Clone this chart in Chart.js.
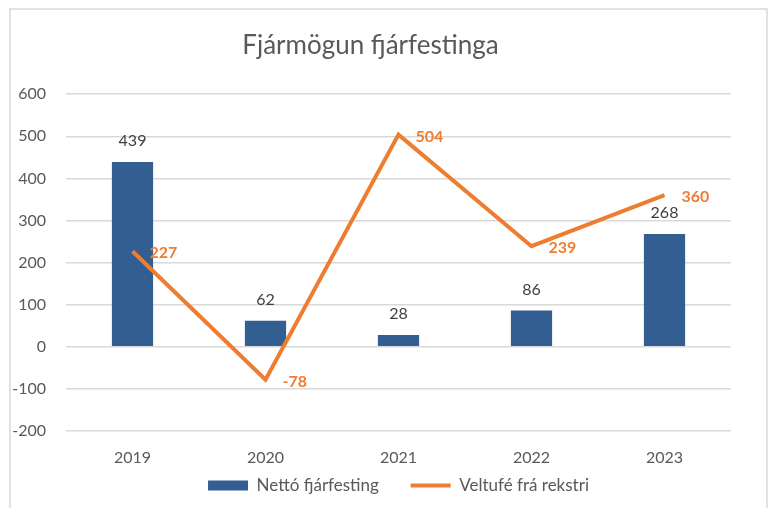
<!DOCTYPE html>
<html>
<head>
<meta charset="utf-8">
<script src="https://cdn.jsdelivr.net/npm/chart.js@4"></script>
<style>
  html, body { margin: 0; padding: 0; background: #fff; }
  #wrap { width: 770px; height: 508px; position: relative; }
</style>
</head>
<body>
<div id="wrap"><canvas id="chart" width="770" height="508"></canvas></div>
<script>
// ── Data ──
const years = ['2019', '2020', '2021', '2022', '2023'];
const nettoFjarfesting = [439, 62, 28, 86, 268];
const veltufeFraRekstri = [227, -78, 504, 239, 360];
const yTicks = [-200, -100, 0, 100, 200, 300, 400, 500, 600];

const FONT = "Lato, 'Open Sans', sans-serif";
const BLUE = '#335E91';
const ORANGE = '#ED7D31';
const GREY = '#595959';

// ── Frame + value labels ──
const framePlugin = {
    id: 'frame',
    beforeDraw(chart) {
        const c = chart.ctx;
        c.save();
        c.fillStyle = '#fff';
        c.fillRect(0, 0, chart.width, chart.height);
        c.strokeStyle = '#d9d9d9';
        c.lineWidth = 1.5;
        c.strokeRect(10, 9, 757, 520);
        c.restore();
    }
};

const valueLabels = {
    id: 'valueLabels',
    afterDatasetsDraw(chart) {
        const c = chart.ctx;
        c.save();
        // bar labels above bars
        const barMeta = chart.getDatasetMeta(0);
        c.font = `16px ${FONT}`;
        c.fillStyle = '#404040';
        c.textAlign = 'center';
        c.textBaseline = 'middle';
        barMeta.data.forEach((el, i) => {
            c.fillText(String(nettoFjarfesting[i]), el.x, el.y - 21);
        });
        // line labels right of points
        const lineMeta = chart.getDatasetMeta(1);
        c.font = `bold 16px ${FONT}`;
        c.fillStyle = ORANGE;
        c.textAlign = 'left';
        lineMeta.data.forEach((el, i) => {
            c.fillText(String(veltufeFraRekstri[i]), el.x + 17, el.y + 2);
        });
        c.restore();
    }
};

new Chart(document.getElementById('chart').getContext('2d'), {
    data: {
        labels: years,
        datasets: [
            {
                type: 'bar',
                label: 'Nettó fjárfesting',
                data: nettoFjarfesting,
                backgroundColor: BLUE,
                borderWidth: 0,
                barPercentage: 0.31,
                categoryPercentage: 1,
                pointStyle: 'rect',
                order: 2
            },
            {
                type: 'line',
                label: 'Veltufé frá rekstri',
                data: veltufeFraRekstri,
                borderColor: ORANGE,
                backgroundColor: ORANGE,
                borderWidth: 4,
                borderJoinStyle: 'miter',
                pointRadius: 0,
                pointStyle: 'line',
                tension: 0,
                order: 1
            }
        ]
    },
    options: {
        responsive: false,
        animation: false,
        layout: { padding: { left: 10, right: 39, top: 0, bottom: 4 } },
        plugins: {
            title: {
                display: true,
                text: 'Fjármögun fjárfestinga',
                color: GREY,
                font: { family: FONT, size: 26, weight: 'normal' },
                padding: { top: 30, bottom: 33 }
            },
            legend: {
                position: 'bottom',
                fullSize: false,
                labels: {
                    color: GREY,
                    font: { family: FONT, size: 17 },
                    usePointStyle: true,
                    pointStyleWidth: 40,
                    boxHeight: 10,
                    padding: 10,
                    sort: (a, b) => a.datasetIndex - b.datasetIndex,
                    generateLabels: chart => {
                        const items = Chart.defaults.plugins.legend.labels.generateLabels(chart);
                        items.forEach(it => { if (it.datasetIndex === 0) it.text += '     '; });
                        return items;
                    }
                }
            },
            tooltip: { enabled: false }
        },
        scales: {
            x: {
                grid: { display: false },
                border: { display: false },
                afterFit: s => { s.height = 36; },
                ticks: { color: GREY, font: { family: FONT, size: 16 }, padding: 9 }
            },
            y: {
                min: yTicks[0],
                max: yTicks[yTicks.length - 1],
                afterBuildTicks: s => { s.ticks = yTicks.map(v => ({ value: v })); },
                afterFit: s => { s.width = 56; },
                grid: { color: '#d9d9d9', lineWidth: 1.5, drawTicks: false },
                border: { display: false },
                ticks: { color: GREY, font: { family: FONT, size: 16 }, padding: 20 }
            }
        }
    },
    plugins: [framePlugin, valueLabels]
});
</script>
</body>
</html>
